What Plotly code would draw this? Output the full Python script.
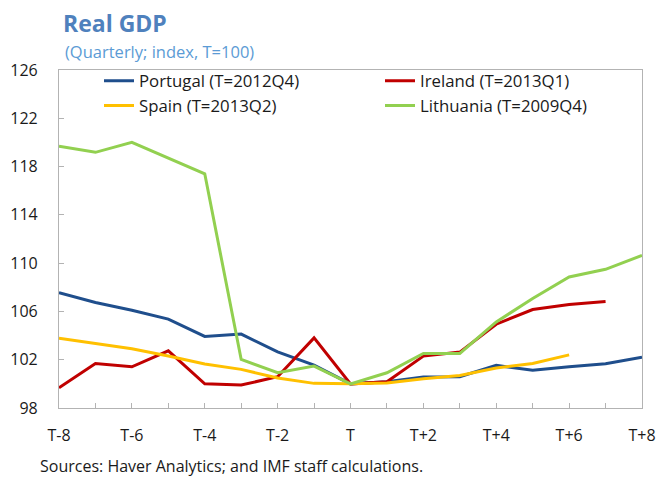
import plotly.graph_objects as go

quarters = ["T-8", "T-7", "T-6", "T-5", "T-4", "T-3", "T-2", "T-1", "T",
            "T+1", "T+2", "T+3", "T+4", "T+5", "T+6", "T+7", "T+8"]
tick_labels = ["T-8", "", "T-6", "", "T-4", "", "T-2", "", "T",
               "", "T+2", "", "T+4", "", "T+6", "", "T+8"]

portugal = [107.56, 106.74, 106.10, 105.36, 103.93, 104.12, 102.65, 101.55, 100.0,
            100.17, 100.56, 100.59, 101.53, 101.12, 101.41, 101.66, 102.21]
ireland = [99.68, 101.69, 101.41, 102.74, 100.0, 99.90, 100.59, 103.81, 100.0,
           100.17, 102.30, 102.63, 104.94, 106.16, 106.57, 106.82]
spain = [103.79, 103.35, 102.90, 102.30, 101.64, 101.20, 100.48, 100.04, 100.0,
         100.07, 100.42, 100.70, 101.31, 101.69, 102.40]
lithuania = [119.68, 119.18, 120.01, 118.72, 117.40, 102.02, 100.92, 101.47, 100.0,
             100.92, 102.52, 102.52, 105.13, 107.07, 108.85, 109.49, 110.64]

# (name, values, colour, legend column)
series = [
    ("Portugal (T=2012Q4)", portugal, "#1F4E8C", "legend"),
    ("Ireland (T=2013Q1)", ireland, "#C00000", "legend2"),
    ("Spain (T=2013Q2)", spain, "#FFC000", "legend"),
    ("Lithuania (T=2009Q4)", lithuania, "#92D050", "legend2"),
]

FONT = "Open Sans"
TXT = "#1a1a1a"
fig = go.Figure()
for name, vals, color, leg in series:
    fig.add_trace(go.Scatter(
        x=quarters[:len(vals)], y=vals, name=name, mode="lines",
        line=dict(color=color, width=3), legend=leg,
    ))

legend_common = dict(
    orientation="v", xanchor="left", y=1.02, yanchor="top",
    font=dict(family=FONT, size=16.8, color=TXT),
    bgcolor="rgba(0,0,0,0)", traceorder="normal",
)

axis_color = "#B3B3B3"
fig.update_layout(
    width=657, height=478,
    margin=dict(l=59, r=15, t=70, b=70),
    plot_bgcolor="white", paper_bgcolor="white",
    font=dict(family=FONT, size=16, color=TXT),
    showlegend=True,
    legend=dict(x=(99 - 59) / 583, **legend_common),
    legend2=dict(x=(380 - 59) / 583, **legend_common),
    title=dict(
        text="<b>Real GDP</b>", x=63/657, xanchor="left", xref="container",
        y=1 - 24/478, yanchor="middle", yref="container",
        font=dict(family=FONT, size=23, color="#4F81BD"),
    ),
    annotations=[
        dict(text="(Quarterly; index, T=100)", xref="paper", yref="paper",
             x=(63 - 59) / 583, y=1 + (69.5 - 51) / 338.8, xanchor="left", yanchor="middle",
             showarrow=False, font=dict(family=FONT, size=16.5, color="#5B9BD5")),
        dict(text="Sources: Haver Analytics; and IMF staff calculations.", xref="paper", yref="paper",
             x=(38 - 59) / 583, y=(408.3 - 466) / 338.8, xanchor="left", yanchor="middle",
             showarrow=False, font=dict(family=FONT, size=16, color=TXT)),
    ],
)
fig.update_xaxes(
    type="category", categoryorder="array", categoryarray=quarters,
    range=[0, 16], tickmode="array", tickvals=quarters, ticktext=tick_labels,
    showline=True, linecolor=axis_color, linewidth=1.2, mirror=True,
    ticks="inside", ticklen=5, tickcolor=axis_color, tickwidth=1,
    showgrid=False, zeroline=False, tickfont=dict(size=16), ticklabelstandoff=13,
    automargin=False,
)
fig.update_yaxes(
    range=[98, 126], tickmode="array", tickvals=[98, 102, 106, 110, 114, 118, 122, 126],
    showline=True, linecolor=axis_color, linewidth=1.2, mirror=True,
    ticks="inside", ticklen=5, tickcolor=axis_color, tickwidth=1,
    showgrid=False, zeroline=False, tickfont=dict(size=16), ticklabelstandoff=17,
    automargin=False,
)
fig.write_html(
    "out.html",
    config={"displayModeBar": False},
    post_script="document.body.style.margin='0';document.body.style.overflow='hidden';",
)
